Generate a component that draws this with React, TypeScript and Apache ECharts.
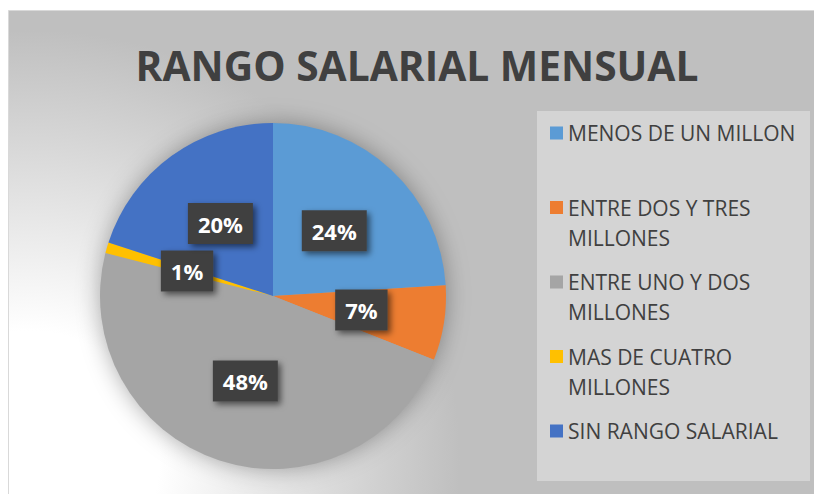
import React, { useEffect, useRef } from 'react';
import * as echarts from 'echarts';

const TITLE = 'RANGO SALARIAL MENSUAL';
const categories = [
  'MENOS DE UN MILLON',
  'ENTRE DOS Y TRES MILLONES',
  'ENTRE UNO Y DOS MILLONES',
  'MAS DE CUATRO MILLONES',
  'SIN RANGO SALARIAL',
];
const legendLines = [
  'MENOS DE UN MILLON',
  'ENTRE DOS Y TRES\nMILLONES',
  'ENTRE UNO Y DOS\nMILLONES',
  'MAS DE CUATRO\nMILLONES',
  'SIN RANGO SALARIAL',
];
const values = [24, 7, 48, 1, 20];
const colors = ['#5B9BD5', '#ED7D31', '#A5A5A5', '#FFC000', '#4472C4'];

export default function App() {
  const ref = useRef<HTMLDivElement>(null);
  useEffect(() => {
    if (!ref.current) return;
    const chart = echarts.init(ref.current, undefined, { renderer: 'svg' });
    const option: any = {
      animation: false,
      backgroundColor: '#ffffff',
      color: colors,
      graphic: {
        elements: [
          {
            type: 'rect',
            z: 0,
            z2: 0,
            silent: true,
            shape: { x: 8.5, y: 10.5, width: 814, height: 494 },
            style: {
              fill: {
                type: 'radial',
                x: 30,
                y: 460,
                r: 430,
                global: true,
                colorStops: [
                  { offset: 0, color: '#ffffff' },
                  { offset: 0.3, color: '#ffffff' },
                  { offset: 1, color: '#bfbfbf' },
                ],
              },
              stroke: '#d9d9d9',
              lineWidth: 1,
            },
          },
          {
            type: 'rect',
            z: 0,
            z2: 1,
            silent: true,
            shape: { x: 537, y: 111, width: 273, height: 370 },
            style: { fill: '#d4d4d4' },
          },
          {
            type: 'circle',
            z: 0,
            z2: 2,
            silent: true,
            shape: { cx: 273, cy: 296, r: 172 },
            style: { fill: '#a5a5a5', shadowBlur: 24, shadowColor: 'rgba(0,0,0,0.35)' },
          },
          {
            type: 'text',
            z: 5,
            x: 417,
            y: 65,
            scaleX: 0.97,
            style: {
              text: TITLE,
              fill: '#404040',
              fontFamily: '"Open Sans"',
              fontWeight: 'bold',
              fontSize: 42,
              align: 'center',
              verticalAlign: 'middle',
            },
          },
        ],
      },
      legend: {
        orient: 'vertical',
        left: 550,
        top: 88,
        padding: 0,
        itemGap: -15.5,
        icon: 'rect',
        itemWidth: 13,
        itemHeight: 13,
        selectedMode: false,
        data: categories,
        formatter: (name: string) => {
          const t = legendLines[categories.indexOf(name)];
          return '\n' + t + (t.indexOf('\n') >= 0 ? '' : '\n');
        },
        textStyle: {
          fontFamily: '"Open Sans"',
          fontSize: 21,
          color: '#404040',
          lineHeight: 30,
        },
      },
      series: [
        {
          type: 'pie',
          center: [273, 296],
          radius: [0, 173],
          startAngle: 90,
          clockwise: true,
          avoidLabelOverlap: false,
          percentPrecision: 0,
          emphasis: { disabled: true },
          itemStyle: { borderWidth: 0 },
          labelLine: { show: false },
          label: {
            show: true,
            position: 'inside',
            formatter: '{d}%',
            color: '#ffffff',
            fontFamily: '"Open Sans"',
            fontWeight: 'bold',
            fontSize: 22,
            lineHeight: 28,
            backgroundColor: '#404040',
            padding: [7, 10, 6, 10],
            shadowColor: 'rgba(0,0,0,0.55)',
            shadowBlur: 6,
            shadowOffsetX: 3,
            shadowOffsetY: 3,
          },
          data: categories.map((n, i) => ({ name: n, value: values[i] })),
        },
      ],
    };
    chart.setOption(option);
    return () => chart.dispose();
  }, []);
  return (
    <div
      ref={ref}
      style={{ position: 'absolute', left: 0, top: 0, width: 814, height: 494 }}
    />
  );
}
